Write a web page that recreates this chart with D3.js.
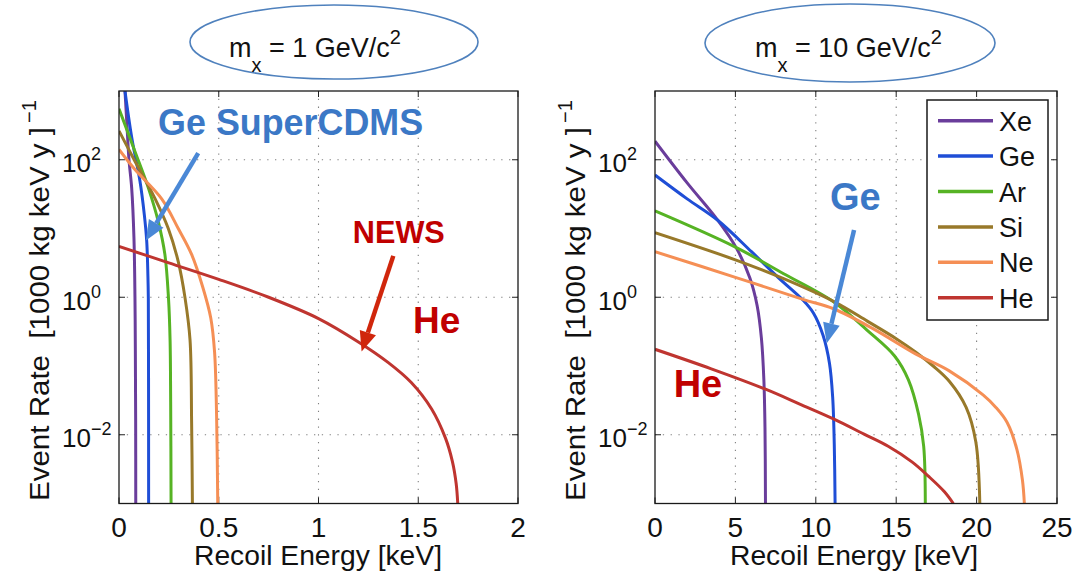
<!DOCTYPE html>
<html><head><meta charset="utf-8">
<script src="https://cdn.jsdelivr.net/npm/d3@7"></script>
<style>
body{margin:0;background:#fff}
svg{display:block}
text{font-family:"Liberation Sans",Arial,Helvetica,sans-serif;fill:#111}
</style>
</head><body>
<svg id="c" width="1074" height="572"></svg>
<script>
// ---------- data ----------
const elements = ["Xe","Ge","Ar","Si","Ne","He"];
const xTicks1 = [0, 0.5, 1, 1.5, 2];
const xTickLabels1 = ["0","0.5","1","1.5","2"];
const xTicks10 = [0, 5, 10, 15, 20, 25];
const xTickLabels10 = ["0","5","10","15","20","25"];
const yTicks = [1e-2, 1, 1e2];
const yTickExps = ["\u22122","0","2"];
const titles = ["1", "10"];

// m_x = 1 GeV/c^2 : [recoil energy keV, event rate]
const xe1 = [[0.03,1000],[0.04,316],[0.05,100],[0.0635,39],[0.075,7.2],[0.080,1.0],[0.082,0.16],[0.0835,0.016],[0.084,0.001]];
const ge1 = [[0.030,1000],[0.064,209],[0.105,49],[0.127,15.8],[0.139,6.5],[0.145,2.0],[0.147,0.98],[0.148,0.1],[0.1485,0.001]];
const ar1 = [[0,550],[0.08,132],[0.147,39],[0.197,12.6],[0.23,4.2],[0.248,0.98],[0.256,0.24],[0.259,0.03],[0.261,0.001]];
const si1 = [[0,263],[0.08,95],[0.18,27.5],[0.247,10],[0.297,3.3],[0.331,0.98],[0.356,0.24],[0.364,0.015],[0.368,0.001]];
const ne1 = [[0,141],[0.08,72],[0.214,27],[0.297,10],[0.364,4.2],[0.42,1.4],[0.46,0.5],[0.479,0.16],[0.489,0.02],[0.495,0.001]];
const he1 = [[0,5.5],[0.25,3.16],[0.5,1.82],[0.75,1.0],[1.0,0.49],[1.2,0.224],[1.35,0.112],[1.465,0.0575],[1.567,0.0237],[1.636,0.009],[1.671,0.0041],[1.69,0.00195],[1.698,0.001]];

// m_x = 10 GeV/c^2
const xe10 = [[0,186],[2,46],[3.9,13.2],[5.08,5.1],[5.9,1.9],[6.35,0.76],[6.62,0.25],[6.77,0.063],[6.84,0.0126],[6.87,0.001]];
const ge10 = [[0,60],[2,27],[3.9,13.2],[6,4.6],[7.7,1.9],[9.2,0.91],[9.85,0.59],[10.45,0.28],[10.85,0.11],[11.05,0.035],[11.15,0.007],[11.2,0.001]];
const ar10 = [[0,18],[4.97,5.4],[8,2.2],[11.1,0.86],[13.2,0.33],[14.9,0.14],[15.76,0.063],[16.39,0.02],[16.71,0.0068],[16.81,0.001]];
const si10 = [[0,8.7],[5,3.5],[8,1.86],[11.1,0.87],[13.2,0.45],[15,0.25],[16.2,0.16],[17.3,0.1],[18.3,0.06],[19.35,0.025],[19.95,0.0079],[20.2,0.001]];
const ne10 = [[0,4.6],[5,1.95],[9.2,0.93],[11.1,0.68],[13.5,0.355],[16.2,0.15],[18.3,0.085],[20.4,0.038],[21.2,0.025],[21.9,0.0151],[22.5,0.0062],[22.85,0.0022],[22.97,0.001]];
const he10 = [[0,0.175],[3.5,0.091],[6.87,0.046],[9,0.028],[11.1,0.017],[13,0.0102],[14.5,0.0068],[16,0.004],[17,0.0025],[18,0.00148],[18.55,0.001]];

// ---------- styles / layout ----------
const colors = {Xe:"#6a3d9b", Ge:"#1f4ed6", Ar:"#56b324", Si:"#98792a", Ne:"#f58f55", He:"#bf3530"};
const svg = d3.select("#c");
const plotTop = 91, plotBottom = 503.5;

const panels = [
  {left:119, right:518, domain:[0,2], ticks:xTicks1, labels:xTickLabels1,
   series:[xe1,ge1,ar1,si1,ne1,he1], title:titles[0],
   ell:{cx:334, cy:42, rx:144, ry:37}, titleX:229},
  {left:655, right:1057, domain:[0,25], ticks:xTicks10, labels:xTickLabels10,
   series:[xe10,ge10,ar10,si10,ne10,he10], title:titles[1],
   ell:{cx:850, cy:43, rx:145, ry:39}, titleX:755}
];

function arrow(g, x1, y1, x2, y2, color, w, hl, hw){
  const a = Math.atan2(y2-y1, x2-x1);
  const bx = x2 - hl*Math.cos(a), by = y2 - hl*Math.sin(a);
  g.append("line").attr("x1",x1).attr("y1",y1).attr("x2",bx).attr("y2",by)
    .attr("stroke",color).attr("stroke-width",w);
  const px = -Math.sin(a)*hw/2, py = Math.cos(a)*hw/2;
  g.append("path").attr("d",`M${x2},${y2}L${bx+px},${by+py}L${bx-px},${by-py}Z`).attr("fill",color);
}

panels.forEach((p, pi) => {
  const x = d3.scaleLinear().domain(p.domain).range([p.left, p.right]);
  const y = d3.scaleLog().domain([1e-3, 1e3]).range([plotBottom, plotTop]);
  const g = svg.append("g");

  g.append("rect").attr("x",p.left).attr("y",plotTop).attr("width",p.right-p.left).attr("height",plotBottom-plotTop).attr("fill","#fff");

  // grid
  g.selectAll(".gx").data(p.ticks.slice(1,-1)).enter().append("line")
    .attr("x1",d=>x(d)).attr("x2",d=>x(d)).attr("y1",plotTop).attr("y2",plotBottom)
    .attr("stroke","#808080").attr("stroke-width",1.1).attr("stroke-dasharray","1.3,6.5");
  g.selectAll(".gy").data(yTicks).enter().append("line")
    .attr("y1",d=>y(d)).attr("y2",d=>y(d)).attr("x1",p.left).attr("x2",p.right)
    .attr("stroke","#808080").attr("stroke-width",1.1).attr("stroke-dasharray","1.3,6.5");

  // ticks (inward, all sides)
  p.ticks.forEach(t => {
    g.append("line").attr("x1",x(t)).attr("x2",x(t)).attr("y1",plotBottom).attr("y2",plotBottom-6).attr("stroke","#222");
    g.append("line").attr("x1",x(t)).attr("x2",x(t)).attr("y1",plotTop).attr("y2",plotTop+6).attr("stroke","#222");
  });
  yTicks.forEach(t => {
    g.append("line").attr("y1",y(t)).attr("y2",y(t)).attr("x1",p.left).attr("x2",p.left+6).attr("stroke","#222");
    g.append("line").attr("y1",y(t)).attr("y2",y(t)).attr("x1",p.right).attr("x2",p.right-6).attr("stroke","#222");
  });

  const cid = "clip"+pi;
  svg.append("clipPath").attr("id",cid).append("rect")
    .attr("x",p.left).attr("y",plotTop).attr("width",p.right-p.left).attr("height",plotBottom-plotTop);

  const line = d3.line().x(d=>x(d[0])).y(d=>y(d[1])).curve(d3.curveCatmullRom.alpha(0.5));
  const cg = g.append("g").attr("clip-path",`url(#${cid})`);
  p.series.forEach((s, i) => {
    cg.append("path").attr("d",line(s)).attr("fill","none")
      .attr("stroke",colors[elements[i]]).attr("stroke-width",3)
      .attr("stroke-linejoin","round");
  });

  g.append("rect").attr("x",p.left).attr("y",plotTop).attr("width",p.right-p.left).attr("height",plotBottom-plotTop)
    .attr("fill","none").attr("stroke","#1a1a1a").attr("stroke-width",1.3);

  g.selectAll(".xl").data(p.ticks).enter().append("text")
    .attr("x",d=>x(d)).attr("y",537).attr("text-anchor","middle")
    .attr("font-size",28).text((d,i)=>p.labels[i]);

  yTicks.forEach((t, i) => {
    const tx = g.append("text").attr("x",p.left-57).attr("y",y(t)+12.5).attr("font-size",26);
    tx.append("tspan").text("10");
    tx.append("tspan").attr("dy",-12).attr("font-size",18).text(yTickExps[i]);
  });

  g.append("text").attr("x",p.left+75).attr("y",565).attr("font-size",27)
    .attr("textLength",248).attr("lengthAdjust","spacingAndGlyphs")
    .text("Recoil Energy [keV]");
  const ylg = g.append("g").attr("transform",`translate(${p.left-70},501) rotate(-90)`);
  ylg.append("text").attr("x",0).attr("y",0).attr("font-size",27).style("white-space","pre")
    .attr("textLength",374).attr("lengthAdjust","spacingAndGlyphs")
    .text("Event Rate  [1000 kg keV y ]");
  ylg.append("text").attr("x",378).attr("y",-13).attr("font-size",20).text("\u22121");

  svg.append("ellipse").attr("cx",p.ell.cx).attr("cy",p.ell.cy).attr("rx",p.ell.rx).attr("ry",p.ell.ry)
    .attr("fill","#fff").attr("stroke","#4f81bd").attr("stroke-width",1.6);
  const tt = svg.append("text").attr("x",p.titleX).attr("y",57).attr("font-size",27).style("white-space","pre");
  tt.append("tspan").text("m");
  tt.append("tspan").attr("dy",15).attr("font-size",20).text("x");
  tt.append("tspan").attr("dy",-15).text(" = " + p.title + " GeV/c");
  tt.append("tspan").attr("dy",-13).attr("font-size",20).text("2");

  const ann = svg.append("g");
  const af = "Lato, 'Open Sans', sans-serif";
  if (pi === 0) {
    ann.append("text").attr("x",x(0.196)).attr("y",y(230)).attr("font-family",af).attr("font-weight","bold")
      .attr("font-size",37).style("fill","#3b78c6")
      .attr("textLength",265).attr("lengthAdjust","spacingAndGlyphs").text("Ge SuperCDMS");
    arrow(ann, x(0.397), y(125), x(0.135), y(6.7), "#4a88d6", 4.5, 20, 17);
    ann.append("text").attr("x",x(1.172)).attr("y",y(6.1)).attr("font-family",af).attr("font-weight","bold")
      .attr("font-size",32).style("fill","#c00000")
      .attr("textLength",92).attr("lengthAdjust","spacingAndGlyphs").text("NEWS");
    arrow(ann, x(1.375), y(4.0), x(1.216), y(0.162), "#d0260c", 4.5, 20, 17);
    ann.append("text").attr("x",x(1.474)).attr("y",y(0.3)).attr("font-family",af).attr("font-weight","bold")
      .attr("font-size",37).style("fill","#c00000").text("He");
  } else {
    ann.append("text").attr("x",x(10.88)).attr("y",y(18.6)).attr("font-family",af).attr("font-weight","bold")
      .attr("font-size",38).style("fill","#3b78c6").text("Ge");
    arrow(ann, x(12.38), y(9.5), x(10.68), y(0.214), "#4a88d6", 4.5, 20, 17);
    ann.append("text").attr("x",x(1.16)).attr("y",y(0.0357)).attr("font-family",af).attr("font-weight","bold")
      .attr("font-size",38).style("fill","#c00000").text("He");
  }

  if (pi === 1) {
    const lg = svg.append("g");
    lg.append("rect").attr("x",927).attr("y",100).attr("width",121).attr("height",220)
      .attr("fill","#fff").attr("stroke","#1a1a1a").attr("stroke-width",1.5);
    elements.forEach((e, i) => {
      const yy = 120.7 + i*35.4;
      lg.append("line").attr("x1",938).attr("x2",993).attr("y1",yy).attr("y2",yy)
        .attr("stroke",colors[e]).attr("stroke-width",3.5);
      lg.append("text").attr("x",999).attr("y",yy+10).attr("font-size",27).text(e);
    });
  }
});
</script>
</body></html>
